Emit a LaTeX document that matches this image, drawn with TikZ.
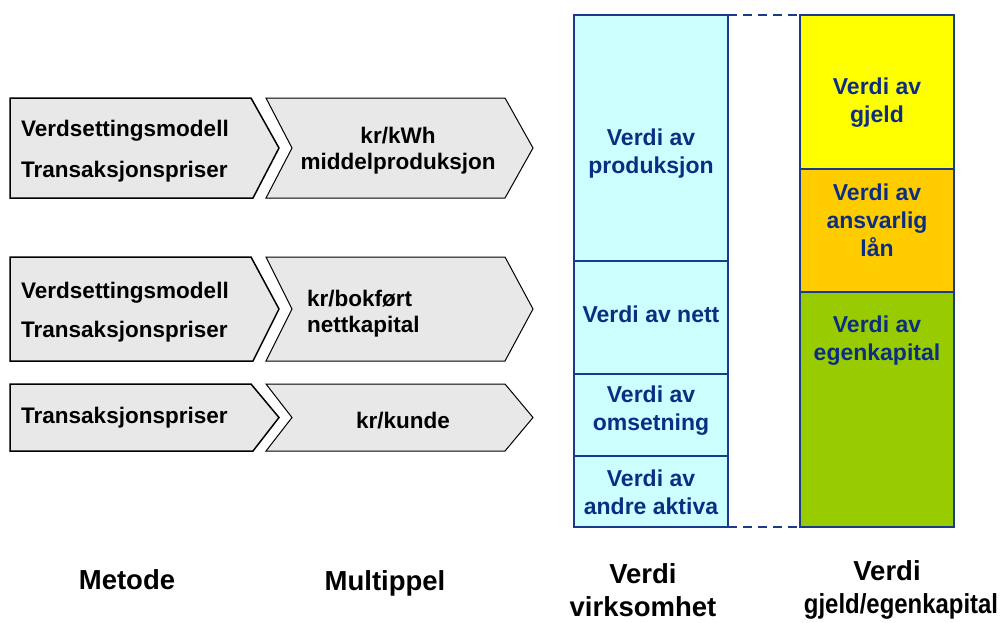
\documentclass[tikz,border=0pt]{standalone}
\usepackage{fontspec}
\setmainfont{Liberation Sans}
\definecolor{boxgray}{HTML}{E8E8E8}
\definecolor{edgeblue}{HTML}{1A3A8A}
\definecolor{txtblue}{HTML}{0B2E82}
\definecolor{lightcyan}{HTML}{CCFFFF}
\definecolor{yel}{HTML}{FFFF00}
\definecolor{orng}{HTML}{FFCC00}
\definecolor{grn}{HTML}{99CC00}
\tikzset{
  leftshape/.style={draw=black, line width=1.5pt, fill=boxgray, line join=miter},
  chevshape/.style={draw=black, line width=1pt, fill=boxgray, line join=miter},
  blktxt/.style={font=\bfseries\fontsize{22.5}{26}\selectfont, text=black, inner sep=0pt},
  seg/.style={draw=edgeblue, line width=1.6pt},
  bluetxt/.style={font=\bfseries\fontsize{23}{28}\selectfont, text=txtblue, align=center, inner sep=0pt},
  bottxt/.style={font=\bfseries\fontsize{27.5}{33}\selectfont, text=black, align=center, inner sep=0pt},
}
\begin{document}
\begin{tikzpicture}[x=1pt,y=-1pt]
\useasboundingbox (0,0) rectangle (1003,622);
% row 1
\draw[leftshape] (10,98) -- (251,98) -- (279,148) -- (253,198) -- (10,198) -- cycle;
\draw[chevshape] (266,98) -- (505,98) -- (533,148) -- (505,198) -- (266,198) -- (292,148) -- cycle;
\node[blktxt, anchor=west, align=left, font=\bfseries\fontsize{22.5}{41}\selectfont] (m1) at (21,151) {Verdsettingsmodell\\Transaksjonspriser};
\node[blktxt, align=center] (p1) at (398,151) {kr/kWh\\middelproduksjon};
% row 2
\draw[leftshape] (10,257) -- (251,257) -- (279,309) -- (253,361) -- (10,361) -- cycle;
\draw[chevshape] (266,257) -- (505,257) -- (533,309) -- (505,361) -- (266,361) -- (292,309) -- cycle;
\node[blktxt, anchor=west, align=left, font=\bfseries\fontsize{22.5}{39}\selectfont] (m2) at (21,312.5) {Verdsettingsmodell\\Transaksjonspriser};
\node[blktxt, anchor=west, align=left] (p2) at (307,314) {kr/bokført\\nettkapital};
% row 3
\draw[leftshape] (10,384) -- (251,384) -- (279,417.5) -- (253,451) -- (10,451) -- cycle;
\draw[chevshape] (266,384) -- (505,384) -- (533,417.5) -- (505,451) -- (266,451) -- (292,417.5) -- cycle;
\node[blktxt, anchor=west] (m3) at (21,418) {Transaksjonspriser};
\node[blktxt] (p3) at (403,421) {kr/kunde};
% columns
\fill[lightcyan] (574,15) rectangle (728,527);
\fill[yel] (800,15) rectangle (954,169);
\fill[orng] (800,169) rectangle (954,292);
\fill[grn] (800,292) rectangle (954,527);
\draw[seg] (574,15) rectangle (728,261);
\draw[seg] (574,261) rectangle (728,374);
\draw[seg] (574,374) rectangle (728,456);
\draw[seg] (574,456) rectangle (728,527);
\draw[seg] (800,15) rectangle (954,169);
\draw[seg] (800,169) rectangle (954,292);
\draw[seg] (800,292) rectangle (954,527);
\coordinate (vtr) at (728,15);
\coordinate (vbr) at (728,527);
\coordinate (gtl) at (800,15);
\coordinate (gbl) at (800,527);
\draw[edgeblue, line width=1.8pt, dash pattern=on 9pt off 6pt] (vtr) -- (gtl);
\draw[edgeblue, line width=1.8pt, dash pattern=on 9pt off 6pt] (vbr) -- (gbl);
\node[bluetxt] (v1) at (651,154) {Verdi av\\produksjon};
\node[bluetxt] (v2) at (651,314) {Verdi av nett};
\node[bluetxt] (v3) at (651,410.5) {Verdi av\\omsetning};
\node[bluetxt] (v4) at (651,492) {Verdi av\\andre aktiva};
\node[bluetxt] (g1) at (877,102.5) {Verdi av\\gjeld};
\node[bluetxt] (g2) at (877,220.5) {Verdi av\\ansvarlig\\lån};
\node[bluetxt] (g3) at (877,340.5) {Verdi av\\egenkapital};
% bottom labels
\node[bottxt] (b1) at (127,580) {Metode};
\node[bottxt] (b2) at (385,583) {Multippel};
\node[bottxt] (b3) at (643,590) {Verdi\\virksomhet};
\node[bottxt] (b4) at (901,590) {Verdi\hspace*{28pt}\\\scalebox{0.87}[1]{gjeld/egenkapital}};
\end{tikzpicture}
\end{document}
